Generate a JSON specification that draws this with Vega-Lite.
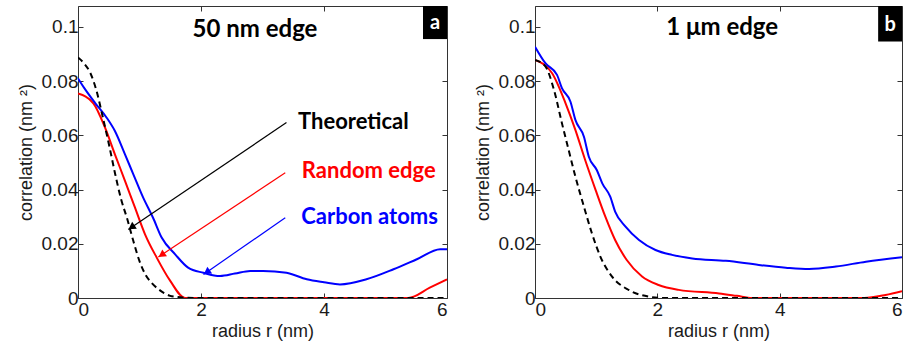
{
  "$schema": "https://vega.github.io/schema/vega-lite/v6.json",
  "padding": {"left": 16, "top": 5, "right": 0, "bottom": 0},
  "spacing": 25,
  "config": {
    "view": {"stroke": "#333", "strokeWidth": 1},
    "axis": {"grid": false, "domain": false, "labelFont": "Liberation Sans", "labelFontSize": 19, "labelColor": "#1a1a1a", "titleFont": "Liberation Sans", "titleFontSize": 18, "titleFontWeight": "normal", "titleColor": "#1a1a1a", "tickColor": "#333", "tickSize": -5},
    "axisX": {"labelPadding": 7, "titlePadding": 3},
    "axisY": {"labelPadding": 5, "titlePadding": 6},
    "line": {"interpolate": "monotone"}
  },
  "datasets": {
    "curves": [
      {"panel": "a", "series": "Theoretical", "r": 0, "c": 0.0887},
      {"panel": "a", "series": "Theoretical", "r": 0.1, "c": 0.0865},
      {"panel": "a", "series": "Theoretical", "r": 0.2, "c": 0.083},
      {"panel": "a", "series": "Theoretical", "r": 0.3, "c": 0.0765},
      {"panel": "a", "series": "Theoretical", "r": 0.4, "c": 0.067},
      {"panel": "a", "series": "Theoretical", "r": 0.5, "c": 0.057},
      {"panel": "a", "series": "Theoretical", "r": 0.6, "c": 0.0462},
      {"panel": "a", "series": "Theoretical", "r": 0.7, "c": 0.0365},
      {"panel": "a", "series": "Theoretical", "r": 0.8, "c": 0.0292},
      {"panel": "a", "series": "Theoretical", "r": 0.9, "c": 0.021},
      {"panel": "a", "series": "Theoretical", "r": 1.0, "c": 0.0136},
      {"panel": "a", "series": "Theoretical", "r": 1.1, "c": 0.0085},
      {"panel": "a", "series": "Theoretical", "r": 1.2, "c": 0.0055},
      {"panel": "a", "series": "Theoretical", "r": 1.3, "c": 0.0034},
      {"panel": "a", "series": "Theoretical", "r": 1.4, "c": 0.0018},
      {"panel": "a", "series": "Theoretical", "r": 1.5, "c": 0.0008},
      {"panel": "a", "series": "Theoretical", "r": 1.6, "c": 0.0004},
      {"panel": "a", "series": "Theoretical", "r": 1.75, "c": 0.0001},
      {"panel": "a", "series": "Theoretical", "r": 2, "c": 0},
      {"panel": "a", "series": "Theoretical", "r": 6, "c": 0},
      {"panel": "a", "series": "Random edge", "r": 0, "c": 0.0754},
      {"panel": "a", "series": "Random edge", "r": 0.25, "c": 0.0718},
      {"panel": "a", "series": "Random edge", "r": 0.44, "c": 0.0628},
      {"panel": "a", "series": "Random edge", "r": 0.6, "c": 0.053},
      {"panel": "a", "series": "Random edge", "r": 0.764, "c": 0.0432},
      {"panel": "a", "series": "Random edge", "r": 0.927, "c": 0.0333},
      {"panel": "a", "series": "Random edge", "r": 1.09, "c": 0.0235},
      {"panel": "a", "series": "Random edge", "r": 1.28, "c": 0.0149},
      {"panel": "a", "series": "Random edge", "r": 1.5, "c": 0.0063},
      {"panel": "a", "series": "Random edge", "r": 1.74, "c": 0},
      {"panel": "a", "series": "Random edge", "r": 5.37, "c": 0},
      {"panel": "a", "series": "Random edge", "r": 5.72, "c": 0.0038},
      {"panel": "a", "series": "Random edge", "r": 6, "c": 0.0069},
      {"panel": "a", "series": "Carbon atoms", "r": 0, "c": 0.081},
      {"panel": "a", "series": "Carbon atoms", "r": 0.1, "c": 0.0775},
      {"panel": "a", "series": "Carbon atoms", "r": 0.276, "c": 0.072},
      {"panel": "a", "series": "Carbon atoms", "r": 0.466, "c": 0.0665},
      {"panel": "a", "series": "Carbon atoms", "r": 0.6, "c": 0.0616},
      {"panel": "a", "series": "Carbon atoms", "r": 0.764, "c": 0.053},
      {"panel": "a", "series": "Carbon atoms", "r": 0.9, "c": 0.0456},
      {"panel": "a", "series": "Carbon atoms", "r": 1.06, "c": 0.037},
      {"panel": "a", "series": "Carbon atoms", "r": 1.22, "c": 0.0296},
      {"panel": "a", "series": "Carbon atoms", "r": 1.36, "c": 0.0223},
      {"panel": "a", "series": "Carbon atoms", "r": 1.58, "c": 0.0161},
      {"panel": "a", "series": "Carbon atoms", "r": 1.79, "c": 0.0112},
      {"panel": "a", "series": "Carbon atoms", "r": 2.04, "c": 0.0093},
      {"panel": "a", "series": "Carbon atoms", "r": 2.31, "c": 0.0081},
      {"panel": "a", "series": "Carbon atoms", "r": 2.55, "c": 0.009},
      {"panel": "a", "series": "Carbon atoms", "r": 2.8, "c": 0.01},
      {"panel": "a", "series": "Carbon atoms", "r": 3.01, "c": 0.01},
      {"panel": "a", "series": "Carbon atoms", "r": 3.39, "c": 0.0093},
      {"panel": "a", "series": "Carbon atoms", "r": 3.72, "c": 0.0069},
      {"panel": "a", "series": "Carbon atoms", "r": 4.0, "c": 0.0058},
      {"panel": "a", "series": "Carbon atoms", "r": 4.26, "c": 0.005},
      {"panel": "a", "series": "Carbon atoms", "r": 4.69, "c": 0.0069},
      {"panel": "a", "series": "Carbon atoms", "r": 5.13, "c": 0.0106},
      {"panel": "a", "series": "Carbon atoms", "r": 5.51, "c": 0.0143},
      {"panel": "a", "series": "Carbon atoms", "r": 5.89, "c": 0.018},
      {"panel": "a", "series": "Carbon atoms", "r": 6, "c": 0.018},
      {"panel": "b", "series": "Theoretical", "r": 0, "c": 0.0878},
      {"panel": "b", "series": "Theoretical", "r": 0.17, "c": 0.0854},
      {"panel": "b", "series": "Theoretical", "r": 0.31, "c": 0.0768},
      {"panel": "b", "series": "Theoretical", "r": 0.44, "c": 0.0645},
      {"panel": "b", "series": "Theoretical", "r": 0.55, "c": 0.0546},
      {"panel": "b", "series": "Theoretical", "r": 0.66, "c": 0.0448},
      {"panel": "b", "series": "Theoretical", "r": 0.8, "c": 0.0337},
      {"panel": "b", "series": "Theoretical", "r": 0.93, "c": 0.0239},
      {"panel": "b", "series": "Theoretical", "r": 1.07, "c": 0.0152},
      {"panel": "b", "series": "Theoretical", "r": 1.26, "c": 0.0079},
      {"panel": "b", "series": "Theoretical", "r": 1.53, "c": 0.003},
      {"panel": "b", "series": "Theoretical", "r": 1.86, "c": 0.0005},
      {"panel": "b", "series": "Theoretical", "r": 2.1, "c": 0},
      {"panel": "b", "series": "Theoretical", "r": 6, "c": 0},
      {"panel": "b", "series": "Random edge", "r": 0, "c": 0.0878},
      {"panel": "b", "series": "Random edge", "r": 0.28, "c": 0.0829},
      {"panel": "b", "series": "Random edge", "r": 0.5, "c": 0.0718},
      {"panel": "b", "series": "Random edge", "r": 0.66, "c": 0.062},
      {"panel": "b", "series": "Random edge", "r": 0.82, "c": 0.0509},
      {"panel": "b", "series": "Random edge", "r": 0.99, "c": 0.0399},
      {"panel": "b", "series": "Random edge", "r": 1.15, "c": 0.03},
      {"panel": "b", "series": "Random edge", "r": 1.31, "c": 0.0214},
      {"panel": "b", "series": "Random edge", "r": 1.5, "c": 0.014},
      {"panel": "b", "series": "Random edge", "r": 1.75, "c": 0.0079},
      {"panel": "b", "series": "Random edge", "r": 2.02, "c": 0.0048},
      {"panel": "b", "series": "Random edge", "r": 2.35, "c": 0.003},
      {"panel": "b", "series": "Random edge", "r": 3.01, "c": 0.0017},
      {"panel": "b", "series": "Random edge", "r": 3.3, "c": 0.0008},
      {"panel": "b", "series": "Random edge", "r": 3.55, "c": 0},
      {"panel": "b", "series": "Random edge", "r": 5.38, "c": 0},
      {"panel": "b", "series": "Random edge", "r": 5.73, "c": 0.0011},
      {"panel": "b", "series": "Random edge", "r": 6, "c": 0.0025},
      {"panel": "b", "series": "Carbon atoms", "r": 0, "c": 0.0927},
      {"panel": "b", "series": "Carbon atoms", "r": 0.17, "c": 0.0866},
      {"panel": "b", "series": "Carbon atoms", "r": 0.36, "c": 0.0823},
      {"panel": "b", "series": "Carbon atoms", "r": 0.44, "c": 0.0774},
      {"panel": "b", "series": "Carbon atoms", "r": 0.58, "c": 0.0724},
      {"panel": "b", "series": "Carbon atoms", "r": 0.66, "c": 0.0657},
      {"panel": "b", "series": "Carbon atoms", "r": 0.8, "c": 0.0595},
      {"panel": "b", "series": "Carbon atoms", "r": 0.88, "c": 0.0521},
      {"panel": "b", "series": "Carbon atoms", "r": 1.01, "c": 0.0472},
      {"panel": "b", "series": "Carbon atoms", "r": 1.1, "c": 0.0423},
      {"panel": "b", "series": "Carbon atoms", "r": 1.23, "c": 0.0374},
      {"panel": "b", "series": "Carbon atoms", "r": 1.31, "c": 0.0319},
      {"panel": "b", "series": "Carbon atoms", "r": 1.48, "c": 0.0263},
      {"panel": "b", "series": "Carbon atoms", "r": 1.7, "c": 0.0214},
      {"panel": "b", "series": "Carbon atoms", "r": 1.97, "c": 0.0177},
      {"panel": "b", "series": "Carbon atoms", "r": 2.24, "c": 0.0159},
      {"panel": "b", "series": "Carbon atoms", "r": 2.57, "c": 0.0146},
      {"panel": "b", "series": "Carbon atoms", "r": 3.12, "c": 0.0137},
      {"panel": "b", "series": "Carbon atoms", "r": 3.66, "c": 0.0122},
      {"panel": "b", "series": "Carbon atoms", "r": 4.1, "c": 0.0112},
      {"panel": "b", "series": "Carbon atoms", "r": 4.48, "c": 0.0107},
      {"panel": "b", "series": "Carbon atoms", "r": 4.92, "c": 0.0116},
      {"panel": "b", "series": "Carbon atoms", "r": 5.41, "c": 0.0134},
      {"panel": "b", "series": "Carbon atoms", "r": 6, "c": 0.015}
    ],
    "arrows": [
      {"series": "Theoretical", "x1": 3.39, "y1": 0.0647, "x2": 0.818, "y2": 0.0253, "hx": 0.87, "hy": 0.0261, "angle": 236},
      {"series": "Random edge", "x1": 3.37, "y1": 0.0462, "x2": 1.306, "y2": 0.0151, "hx": 1.36, "hy": 0.0159, "angle": 236},
      {"series": "Carbon atoms", "x1": 3.37, "y1": 0.0296, "x2": 2.04, "y2": 0.0087, "hx": 2.094, "hy": 0.0095, "angle": 235}
    ],
    "notes": [
      {"series": "Theoretical", "label": "Theoretical", "x": 3.577, "y": 0.0623},
      {"series": "Random edge", "label": "Random edge", "x": 3.64, "y": 0.0444},
      {"series": "Carbon atoms", "label": "Carbon atoms", "x": 3.63, "y": 0.0274}
    ],
    "titles": [
      {"panel": "a", "title": "50 nm edge", "tx": 2.878, "ty": 0.0963, "tag": "a", "bx": 5.61, "bx2": 6, "by": 0.0955, "by2": 0.1077, "lx": 5.805, "ly": 0.0992},
      {"panel": "b", "title": "1 μm edge", "tx": 3.06, "ty": 0.097, "tag": "b", "bx": 5.61, "bx2": 6, "by": 0.0946, "by2": 0.1077, "lx": 5.805, "ly": 0.0983}
    ]
  },
  "hconcat": [
    {
      "width": 369,
      "height": 292,
      "layer": [
        {
          "data": {"name": "curves"},
          "transform": [{"filter": "datum.panel == 'a' && datum.series == 'Random edge'"}],
          "mark": {"type": "line", "color": "#ff0000", "strokeWidth": 2, "clip": true},
          "encoding": {
            "x": {"field": "r", "type": "quantitative", "scale": {"domain": [0, 6], "nice": false}, "axis": {"orient": "bottom", "values": [0, 2, 4, 6], "format": "d", "title": "radius r (nm)"}},
            "y": {"field": "c", "type": "quantitative", "scale": {"domain": [0, 0.1077], "nice": false}, "axis": {"orient": "left", "values": [0, 0.02, 0.04, 0.06, 0.08, 0.1], "format": ".2~f", "title": "correlation (nm ²)"}}
          }
        },
        {
          "data": {"name": "curves"},
          "transform": [{"filter": "datum.panel == 'a' && datum.series == 'Carbon atoms'"}],
          "mark": {"type": "line", "color": "#0000ff", "strokeWidth": 2, "clip": true},
          "encoding": {
            "x": {"field": "r", "type": "quantitative", "axis": null},
            "y": {"field": "c", "type": "quantitative", "axis": null}
          }
        },
        {
          "data": {"name": "curves"},
          "transform": [{"filter": "datum.panel == 'a' && datum.series == 'Theoretical'"}],
          "mark": {"type": "line", "color": "#000000", "strokeWidth": 2, "strokeDash": [6, 4], "clip": true},
          "encoding": {
            "x": {"field": "r", "type": "quantitative", "axis": null},
            "y": {"field": "c", "type": "quantitative", "axis": null}
          }
        },
        {
          "data": {"name": "arrows"},
          "mark": {"type": "rule", "strokeWidth": 1.2},
          "encoding": {
            "x": {"field": "x1", "type": "quantitative", "axis": null},
            "y": {"field": "y1", "type": "quantitative", "axis": null},
            "x2": {"field": "x2"},
            "y2": {"field": "y2"},
            "color": {"field": "series", "type": "nominal", "scale": {"domain": ["Theoretical", "Random edge", "Carbon atoms"], "range": ["#000000", "#ff0000", "#0000ff"]}, "legend": null}
          }
        },
        {
          "data": {"name": "arrows"},
          "mark": {"type": "point", "shape": "triangle-up", "filled": true, "size": 70, "opacity": 1},
          "encoding": {
            "x": {"field": "hx", "type": "quantitative", "axis": null},
            "y": {"field": "hy", "type": "quantitative", "axis": null},
            "angle": {"field": "angle", "type": "quantitative", "scale": null},
            "color": {"field": "series", "type": "nominal", "legend": null}
          }
        },
        {
          "data": {"name": "notes"},
          "mark": {"type": "text", "font": "Lato", "fontWeight": "bold", "fontSize": 22, "align": "left", "baseline": "alphabetic"},
          "encoding": {
            "x": {"field": "x", "type": "quantitative", "axis": null},
            "y": {"field": "y", "type": "quantitative", "axis": null},
            "text": {"field": "label"},
            "color": {"field": "series", "type": "nominal", "legend": null}
          }
        },
        {
          "data": {"name": "titles"},
          "transform": [{"filter": "datum.panel == 'a'"}],
          "mark": {"type": "text", "font": "Lato", "fontWeight": "bold", "fontSize": 24, "align": "center", "baseline": "alphabetic", "color": "#000"},
          "encoding": {
            "x": {"field": "tx", "type": "quantitative", "axis": null},
            "y": {"field": "ty", "type": "quantitative", "axis": null},
            "text": {"field": "title"}
          }
        },
        {
          "data": {"name": "titles"},
          "transform": [{"filter": "datum.panel == 'a'"}],
          "mark": {"type": "rect", "color": "#000"},
          "encoding": {
            "x": {"field": "bx", "type": "quantitative", "axis": {"orient": "top", "values": [0, 2, 4, 6], "labels": false, "title": null}},
            "x2": {"field": "bx2"},
            "y": {"field": "by", "type": "quantitative", "axis": {"orient": "right", "values": [0, 0.02, 0.04, 0.06, 0.08, 0.1], "labels": false, "title": null}},
            "y2": {"field": "by2"}
          }
        },
        {
          "data": {"name": "titles"},
          "transform": [{"filter": "datum.panel == 'a'"}],
          "mark": {"type": "text", "font": "Lato", "fontWeight": "bold", "fontSize": 20, "align": "center", "baseline": "alphabetic", "color": "#fff"},
          "encoding": {
            "x": {"field": "lx", "type": "quantitative", "axis": null},
            "y": {"field": "ly", "type": "quantitative", "axis": null},
            "text": {"field": "tag"}
          }
        }
      ]
    },
    {
      "width": 367,
      "height": 292,
      "layer": [
        {
          "data": {"name": "curves"},
          "transform": [{"filter": "datum.panel == 'b' && datum.series == 'Random edge'"}],
          "mark": {"type": "line", "color": "#ff0000", "strokeWidth": 2, "clip": true},
          "encoding": {
            "x": {"field": "r", "type": "quantitative", "scale": {"domain": [0, 6], "nice": false}, "axis": {"orient": "bottom", "values": [0, 2, 4, 6], "format": "d", "title": "radius r (nm)"}},
            "y": {"field": "c", "type": "quantitative", "scale": {"domain": [0, 0.1077], "nice": false}, "axis": {"orient": "left", "values": [0, 0.02, 0.04, 0.06, 0.08, 0.1], "format": ".2~f", "title": "correlation (nm ²)"}}
          }
        },
        {
          "data": {"name": "curves"},
          "transform": [{"filter": "datum.panel == 'b' && datum.series == 'Carbon atoms'"}],
          "mark": {"type": "line", "color": "#0000ff", "strokeWidth": 2, "clip": true},
          "encoding": {
            "x": {"field": "r", "type": "quantitative", "axis": null},
            "y": {"field": "c", "type": "quantitative", "axis": null}
          }
        },
        {
          "data": {"name": "curves"},
          "transform": [{"filter": "datum.panel == 'b' && datum.series == 'Theoretical'"}],
          "mark": {"type": "line", "color": "#000000", "strokeWidth": 2, "strokeDash": [6, 4], "clip": true},
          "encoding": {
            "x": {"field": "r", "type": "quantitative", "axis": null},
            "y": {"field": "c", "type": "quantitative", "axis": null}
          }
        },
        {
          "data": {"name": "titles"},
          "transform": [{"filter": "datum.panel == 'b'"}],
          "mark": {"type": "text", "font": "Lato", "fontWeight": "bold", "fontSize": 24, "align": "center", "baseline": "alphabetic", "color": "#000"},
          "encoding": {
            "x": {"field": "tx", "type": "quantitative", "axis": null},
            "y": {"field": "ty", "type": "quantitative", "axis": null},
            "text": {"field": "title"}
          }
        },
        {
          "data": {"name": "titles"},
          "transform": [{"filter": "datum.panel == 'b'"}],
          "mark": {"type": "rect", "color": "#000"},
          "encoding": {
            "x": {"field": "bx", "type": "quantitative", "axis": {"orient": "top", "values": [0, 2, 4, 6], "labels": false, "title": null}},
            "x2": {"field": "bx2"},
            "y": {"field": "by", "type": "quantitative", "axis": {"orient": "right", "values": [0, 0.02, 0.04, 0.06, 0.08, 0.1], "labels": false, "title": null}},
            "y2": {"field": "by2"}
          }
        },
        {
          "data": {"name": "titles"},
          "transform": [{"filter": "datum.panel == 'b'"}],
          "mark": {"type": "text", "font": "Lato", "fontWeight": "bold", "fontSize": 20, "align": "center", "baseline": "alphabetic", "color": "#fff"},
          "encoding": {
            "x": {"field": "lx", "type": "quantitative", "axis": null},
            "y": {"field": "ly", "type": "quantitative", "axis": null},
            "text": {"field": "tag"}
          }
        }
      ]
    }
  ]
}
